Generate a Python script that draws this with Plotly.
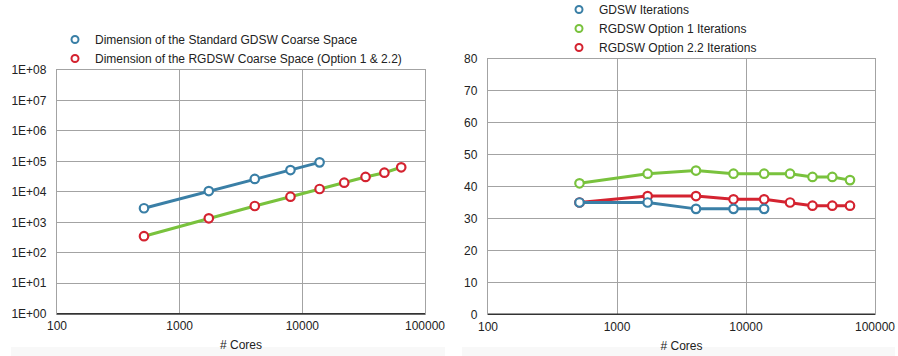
import plotly.graph_objects as go

# ---- data ----
cores = [512, 1728, 4096, 8000, 13824, 21952, 32768, 46656, 64000]
gdsw_dim = [2900, 10600, 26500, 52000, 93000]
rgdsw_dim = [350, 1350, 3430, 6930, 12400, 20000, 30800, 42500, 64000]
gdsw_it = [35, 35, 33, 33, 33]
rgdsw1_it = [41, 44, 45, 44, 44, 44, 43, 43, 42]
rgdsw22_it = [35, 37, 37, 36, 36, 35, 34, 34, 34]

log_tickvals = [1, 10, 100, 1000, 1e4, 1e5, 1e6, 1e7, 1e8]
log_ticktext = ["1E+00", "1E+01", "1E+02", "1E+03", "1E+04", "1E+05", "1E+06", "1E+07", "1E+08"]
x_tickvals = [100, 1000, 10000, 100000]
x_ticktext = ["100", "1000", "10000", "100000"]
lin_tickvals = [0, 10, 20, 30, 40, 50, 60, 70, 80]

legend1_names = ["Dimension of the Standard GDSW Coarse Space",
                 "Dimension of the RGDSW Coarse Space (Option 1 & 2.2)"]
legend2_names = ["GDSW Iterations", "RGDSW Option 1 Iterations", "RGDSW Option 2.2 Iterations"]

BLUE = "#3a7fa6"
GREEN = "#79c23d"
RED = "#d42330"
GRID = "#a3a3a3"
FONT = "Liberation Sans, Arial, sans-serif"
FS = 12

W, H = 898, 356
fig = go.Figure()

def mk(color):
    return dict(symbol="circle", size=8.5, color="white", line=dict(color=color, width=2.2))

# left chart
fig.add_trace(go.Scatter(x=cores[:len(gdsw_dim)], y=gdsw_dim, mode="lines+markers",
                         line=dict(color=BLUE, width=3), marker=mk(BLUE),
                         showlegend=False, xaxis="x", yaxis="y"))
fig.add_trace(go.Scatter(x=cores, y=rgdsw_dim, mode="lines+markers",
                         line=dict(color=GREEN, width=3), marker=mk(RED),
                         showlegend=False, xaxis="x", yaxis="y"))
for name, c in zip(legend1_names, [BLUE, RED]):
    fig.add_trace(go.Scatter(x=[None], y=[None], mode="markers", name=name,
                             marker=dict(symbol="circle", size=7, color="white", line=dict(color=c, width=2)),
                             legend="legend", xaxis="x", yaxis="y"))

# right chart
fig.add_trace(go.Scatter(x=cores, y=rgdsw1_it, mode="lines+markers",
                         line=dict(color=GREEN, width=3), marker=mk(GREEN),
                         showlegend=False, xaxis="x2", yaxis="y2"))
fig.add_trace(go.Scatter(x=cores, y=rgdsw22_it, mode="lines+markers",
                         line=dict(color=RED, width=3), marker=mk(RED),
                         showlegend=False, xaxis="x2", yaxis="y2"))
fig.add_trace(go.Scatter(x=cores[:len(gdsw_it)], y=gdsw_it, mode="lines+markers",
                         line=dict(color=BLUE, width=3), marker=mk(BLUE),
                         showlegend=False, xaxis="x2", yaxis="y2"))
for name, c in zip(legend2_names, [BLUE, GREEN, RED]):
    fig.add_trace(go.Scatter(x=[None], y=[None], mode="markers", name=name,
                             marker=dict(symbol="circle", size=7, color="white", line=dict(color=c, width=2)),
                             legend="legend2", xaxis="x2", yaxis="y2"))

def px_x(v):
    return v / W

def px_y(v):
    return 1 - v / H

tickfont = dict(family=FONT, size=FS, color="#222")
xcommon = dict(type="log", range=[2, 5], tickvals=x_tickvals, ticktext=x_ticktext,
               showgrid=True, gridcolor=GRID, gridwidth=1.3, showline=True, linecolor=GRID,
               linewidth=1.3, mirror=True, ticks="", tickfont=tickfont, ticklabelstandoff=1,
               title=dict(text="# Cores", font=dict(family=FONT, size=FS, color="#222"), standoff=8),
               zeroline=False, automargin=False)
ycommon = dict(showgrid=True, gridcolor=GRID, gridwidth=1.3, showline=True, linecolor=GRID,
               linewidth=1.3, mirror=True, ticks="", tickfont=tickfont, ticklabelstandoff=7,
               zeroline=False, automargin=False)

fig.update_layout(
    width=W, height=H, margin=dict(l=0, r=0, t=0, b=0, autoexpand=False),
    paper_bgcolor="white", plot_bgcolor="white",
    xaxis=dict(domain=[px_x(57), px_x(425)], anchor="y", **xcommon),
    yaxis=dict(domain=[px_y(313.7), px_y(70)], anchor="x", type="log", range=[0, 8],
               tickvals=log_tickvals, ticktext=log_ticktext, **ycommon),
    xaxis2=dict(domain=[px_x(488), px_x(875)], anchor="y2", **xcommon),
    yaxis2=dict(domain=[px_y(314.3), px_y(58.7)], anchor="x2", range=[0, 80],
                tickvals=lin_tickvals, **ycommon),
    legend=dict(x=px_x(55), y=px_y(49), xanchor="left", yanchor="middle",
                font=dict(family=FONT, size=FS, color="#222"), bgcolor="rgba(0,0,0,0)",
                tracegroupgap=0, itemwidth=30),
    legend2=dict(x=px_x(559), y=px_y(28.5), xanchor="left", yanchor="middle",
                 font=dict(family=FONT, size=FS, color="#222"), bgcolor="rgba(0,0,0,0)",
                 tracegroupgap=0, itemwidth=30),
    shapes=[
        dict(type="rect", xref="paper", yref="paper", x0=px_x(11), x1=px_x(445), y0=0, y1=px_y(347),
             fillcolor="#f8f8f8", line=dict(width=0), layer="below"),
        dict(type="rect", xref="paper", yref="paper", x0=px_x(462), x1=px_x(895), y0=0, y1=px_y(347),
             fillcolor="#f8f8f8", line=dict(width=0), layer="below"),
        dict(type="line", xref="x domain", yref="y domain", x0=0, x1=1, y0=0, y1=0,
             line=dict(color="#333", width=1.5)),
        dict(type="line", xref="x2 domain", yref="y2 domain", x0=0, x1=1, y0=0, y1=0,
             line=dict(color="#333", width=1.5)),
    ],
)

fig.write_html("out.html", config={"displayModeBar": False},
               post_script="document.body.style.margin='0';")
